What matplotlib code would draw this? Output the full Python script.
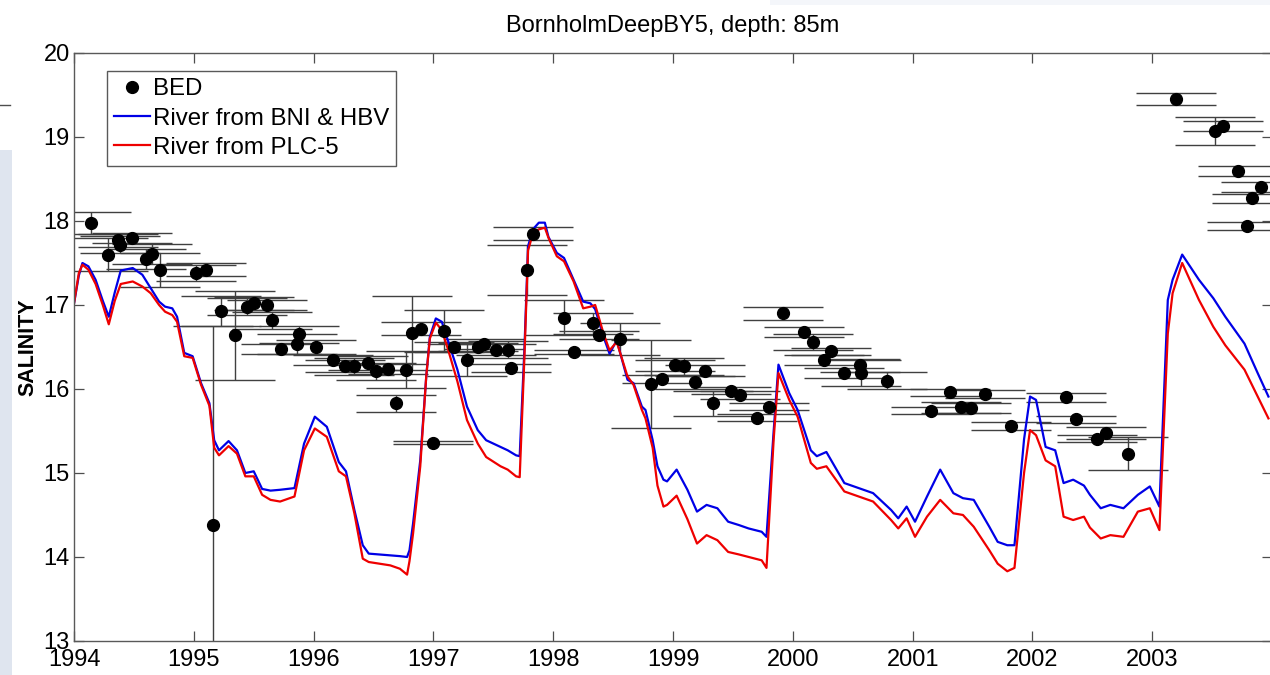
import matplotlib
matplotlib.use("Agg")
import matplotlib.pyplot as plt
from matplotlib.patches import Rectangle
from matplotlib.lines import Line2D

plt.rcParams['font.family'] = ['Liberation Sans', 'DejaVu Sans']

# model output (decimal years, salinity)
model_t = [
    1994.00, 1994.04, 1994.07, 1994.12, 1994.18, 1994.24, 1994.29, 1994.34, 1994.39, 1994.49,
    1994.57, 1994.64, 1994.71, 1994.76, 1994.82, 1994.86, 1994.92, 1994.99, 1995.06, 1995.13,
    1995.17, 1995.21, 1995.29, 1995.36, 1995.43, 1995.50, 1995.57, 1995.64, 1995.72, 1995.84,
    1995.92, 1996.01, 1996.11, 1996.21, 1996.27, 1996.34, 1996.41, 1996.46, 1996.55, 1996.64,
    1996.72, 1996.78, 1996.80, 1996.83, 1996.89, 1996.94, 1996.97, 1997.02, 1997.07, 1997.12,
    1997.20, 1997.28, 1997.37, 1997.44, 1997.56, 1997.62, 1997.69, 1997.72, 1997.76, 1997.79,
    1997.83, 1997.88, 1997.93, 1997.96, 1998.03, 1998.09, 1998.17, 1998.25, 1998.31, 1998.35,
    1998.42, 1998.47, 1998.53, 1998.62, 1998.67, 1998.74, 1998.77, 1998.83, 1998.87, 1998.92,
    1998.95, 1999.03, 1999.12, 1999.20, 1999.28, 1999.37, 1999.46, 1999.55, 1999.63, 1999.74,
    1999.78, 1999.84, 1999.88, 1999.97, 2000.04, 2000.15, 2000.20, 2000.28, 2000.43, 2000.55,
    2000.67, 2000.82, 2000.88, 2000.95, 2001.02, 2001.12, 2001.23, 2001.34, 2001.42, 2001.51,
    2001.64, 2001.71, 2001.79, 2001.85, 2001.93, 2001.98, 2002.03, 2002.11, 2002.19, 2002.26,
    2002.34, 2002.43, 2002.48, 2002.57, 2002.65, 2002.76, 2002.88, 2002.98, 2003.06, 2003.13,
    2003.17, 2003.25, 2003.39, 2003.51, 2003.61, 2003.77, 2003.88, 2003.97,
]
bni_hbv = [
    17.02, 17.35, 17.50, 17.46, 17.30, 17.05, 16.86, 17.15, 17.41, 17.44,
    17.36, 17.20, 17.04, 16.98, 16.96, 16.86, 16.43, 16.39, 16.07, 15.83,
    15.39, 15.27, 15.38, 15.27, 15.00, 15.02, 14.81, 14.79, 14.80, 14.82,
    15.35, 15.67, 15.55, 15.13, 15.02, 14.56, 14.14, 14.04, 14.03, 14.02,
    14.01, 14.00, 14.08, 14.40, 15.15, 16.15, 16.62, 16.84, 16.80, 16.58,
    16.23, 15.79, 15.51, 15.39, 15.31, 15.27, 15.21, 15.20, 16.50, 17.70,
    17.90, 17.98, 17.98, 17.81, 17.62, 17.56, 17.30, 17.04, 17.02, 16.95,
    16.62, 16.42, 16.58, 16.11, 16.07, 15.79, 15.75, 15.39, 15.08, 14.92,
    14.90, 15.04, 14.80, 14.54, 14.62, 14.58, 14.42, 14.38, 14.34, 14.30,
    14.24, 15.50, 16.29, 15.95, 15.75, 15.27, 15.20, 15.25, 14.88, 14.82,
    14.76, 14.56, 14.46, 14.60, 14.42, 14.72, 15.04, 14.76, 14.70, 14.68,
    14.36, 14.18, 14.14, 14.14, 15.40, 15.91, 15.87, 15.31, 15.27, 14.88,
    14.92, 14.85, 14.74, 14.58, 14.62, 14.58, 14.74, 14.84, 14.60, 17.06,
    17.30, 17.60, 17.30, 17.08, 16.86, 16.54, 16.19, 15.91,
]
plc5 = [
    17.02, 17.38, 17.48, 17.42, 17.25, 17.00, 16.77, 17.05, 17.25, 17.28,
    17.22, 17.14, 17.00, 16.92, 16.88, 16.80, 16.39, 16.37, 16.05, 15.80,
    15.30, 15.21, 15.32, 15.23, 14.96, 14.96, 14.74, 14.68, 14.66, 14.72,
    15.27, 15.53, 15.43, 15.02, 14.96, 14.52, 13.98, 13.94, 13.92, 13.90,
    13.86, 13.79, 13.95, 14.28, 15.08, 16.15, 16.60, 16.79, 16.70, 16.48,
    16.09, 15.63, 15.35, 15.19, 15.08, 15.04, 14.96, 14.95, 16.40, 17.65,
    17.85, 17.90, 17.92, 17.80, 17.58, 17.52, 17.28, 16.96, 16.98, 17.00,
    16.66, 16.46, 16.56, 16.15, 16.05, 15.75, 15.65, 15.30, 14.85, 14.60,
    14.62, 14.73, 14.45, 14.16, 14.26, 14.20, 14.06, 14.03, 14.00, 13.96,
    13.87, 15.40, 16.19, 15.87, 15.67, 15.12, 15.05, 15.08, 14.78, 14.72,
    14.66, 14.44, 14.34, 14.46, 14.24, 14.48, 14.68, 14.52, 14.50, 14.36,
    14.08, 13.92, 13.83, 13.87, 15.00, 15.51, 15.45, 15.15, 15.08, 14.48,
    14.44, 14.48, 14.35, 14.22, 14.26, 14.24, 14.54, 14.58, 14.32, 16.66,
    17.14, 17.50, 17.06, 16.74, 16.52, 16.23, 15.91, 15.65,
]

# BED observations with error estimates
bed_t = [
    1994.14, 1994.28, 1994.37, 1994.38, 1994.48, 1994.60, 1994.65, 1994.72, 1995.02, 1995.10,
    1995.16, 1995.23, 1995.34, 1995.44, 1995.50, 1995.61, 1995.65, 1995.73, 1995.86, 1995.88,
    1996.02, 1996.16, 1996.26, 1996.34, 1996.45, 1996.52, 1996.62, 1996.69, 1996.77, 1996.82,
    1996.90, 1997.00, 1997.09, 1997.17, 1997.28, 1997.37, 1997.42, 1997.52, 1997.62, 1997.65,
    1997.78, 1997.83, 1998.09, 1998.17, 1998.33, 1998.38, 1998.56, 1998.82, 1998.91, 1999.02,
    1999.09, 1999.18, 1999.27, 1999.33, 1999.48, 1999.56, 1999.70, 1999.80, 1999.92, 2000.09,
    2000.17, 2000.26, 2000.32, 2000.43, 2000.56, 2000.57, 2000.79, 2001.15, 2001.31, 2001.40,
    2001.49, 2001.60, 2001.82, 2002.28, 2002.36, 2002.54, 2002.61, 2002.80, 2003.20, 2003.52,
    2003.59, 2003.72, 2003.79, 2003.83, 2003.91,
]
bed_s = [
    17.98, 17.60, 17.77, 17.72, 17.80, 17.55, 17.61, 17.42, 17.38, 17.42,
    14.38, 16.93, 16.64, 16.98, 17.02, 17.00, 16.82, 16.48, 16.54, 16.65,
    16.50, 16.35, 16.27, 16.27, 16.31, 16.21, 16.24, 15.83, 16.23, 16.67,
    16.72, 15.36, 16.69, 16.50, 16.35, 16.50, 16.54, 16.47, 16.47, 16.25,
    17.42, 17.85, 16.85, 16.44, 16.78, 16.64, 16.60, 16.06, 16.12, 16.28,
    16.27, 16.08, 16.22, 15.83, 15.98, 15.93, 15.66, 15.79, 16.90, 16.68,
    16.56, 16.34, 16.45, 16.19, 16.28, 16.19, 16.10, 15.74, 15.96, 15.78,
    15.77, 15.94, 15.56, 15.90, 15.64, 15.41, 15.48, 15.23, 19.45, 19.07,
    19.13, 18.60, 17.94, 18.27, 18.40,
]
bed_err = [
    0.13, 0.20, 0.08, 0.10, 0.06, 0.12, 0.12, 0.20, 0.10, 0.08,
    2.37, 0.18, 0.53, 0.10, 0.08, 0.06, 0.10, 0.06, 0.12, 0.10,
    0.08, 0.06, 0.07, 0.10, 0.08, 0.10, 0.06, 0.10, 0.22, 0.44,
    0.08, 0.02, 0.25, 0.06, 0.19, 0.05, 0.06, 0.07, 0.10, 0.05,
    0.30, 0.08, 0.21, 0.02, 0.12, 0.05, 0.19, 0.52, 0.05, 0.06,
    0.10, 0.08, 0.06, 0.15, 0.04, 0.05, 0.04, 0.04, 0.08, 0.06,
    0.10, 0.06, 0.04, 0.06, 0.08, 0.15, 0.10, 0.04, 0.04, 0.07,
    0.06, 0.05, 0.05, 0.05, 0.04, 0.04, 0.07, 0.20, 0.07, 0.17,
    0.06, 0.06, 0.05, 0.05, 0.06,
]

year_ticks = list(range(1994, 2004))
sal_ticks = list(range(13, 21))

fig = plt.figure(figsize=(12.7, 6.75), dpi=100)
fig.patch.set_facecolor('white')

# screenshot leftovers around the figure (light strip at left edge, faint top-right band)
fig.patches.append(Rectangle((0, 0), 12 / 1270, 525 / 675, transform=fig.transFigure,
                             facecolor='#dfe5ef', edgecolor='none', zorder=0))
fig.patches.append(Rectangle((770 / 1270, 670 / 675), 500 / 1270, 5 / 675, transform=fig.transFigure,
                             facecolor='#f4f6fa', edgecolor='none', zorder=0))
fig.lines.append(Line2D([0, 10 / 1270], [570 / 675, 570 / 675], transform=fig.transFigure,
                        color='0.3', linewidth=1.0))

ax = fig.add_axes([0.0583, 0.0504, 0.9433, 0.8711])

# error bars first (wide MATLAB-style caps), then model lines, then points
ax.errorbar(bed_t, bed_s, yerr=bed_err, fmt='none', ecolor='0.25',
            elinewidth=1.0, capsize=28.8, capthick=1.0, zorder=1)
ax.plot(model_t, bni_hbv, color='#0000e6', linewidth=1.6, label='River from BNI & HBV', zorder=2)
ax.plot(model_t, plc5, color='#ee0000', linewidth=1.6, label='River from PLC-5', zorder=2)
ax.plot(bed_t, bed_s, 'o', color='black', markersize=8.5, label='BED', zorder=3)

ax.set_xlim(1994, 2004)
ax.set_ylim(13, 20)
ax.set_xticks(year_ticks)
ax.set_yticks(sal_ticks)
ax.tick_params(direction='in', length=7, width=0.9, top=True, right=True,
               labelsize=17, color='0.3')
ax.tick_params(axis='x', pad=6)
ax.tick_params(axis='y', pad=3)
for sp in ax.spines.values():
    sp.set_color('0.35')
    sp.set_linewidth(1.0)

ax.set_title('BornholmDeepBY5, depth: 85m', fontsize=17, pad=15)
ax.set_ylabel('SALINITY', fontsize=15.5, fontweight='bold', labelpad=4)

handles, labels = ax.get_legend_handles_labels()
order = [2, 0, 1]
leg = ax.legend([handles[i] for i in order], [labels[i] for i in order],
                loc='upper left', bbox_to_anchor=(0.0275, 0.969), borderaxespad=0,
                fontsize=17.3, fancybox=False, framealpha=1, edgecolor='0.35',
                handlelength=1.5, handletextpad=0.1, labelspacing=0.3,
                borderpad=0.3, numpoints=1)
leg.get_frame().set_linewidth(1.0)

fig.savefig('out.png', dpi=100)
